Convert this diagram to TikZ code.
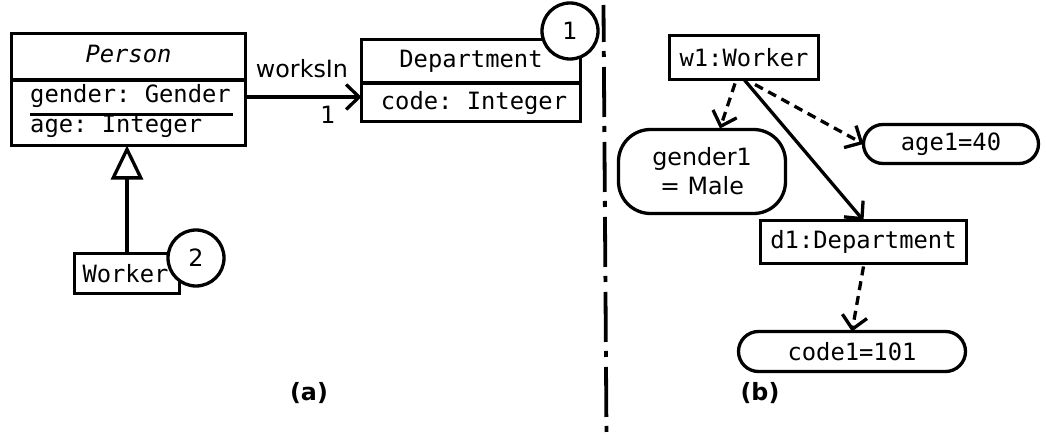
\documentclass[tikz,border=0pt]{standalone}
\usepackage{fontspec}
\setmainfont{DejaVu Sans}
\setmonofont{DejaVu Sans Mono}
\usetikzlibrary{arrows.meta,calc}
\begin{document}
\begin{tikzpicture}[x=1pt,y=-1pt,
  every node/.style={font=\fontsize{23.8}{29}\selectfont},
  mono/.style={font=\fontsize{23.8}{29}\selectfont\ttfamily},
  box/.style={draw, line width=3.3pt, inner sep=0pt, outer sep=0pt},
  txt/.style={inner sep=0pt, anchor=base},
  numcirc/.style={circle, draw, fill=white, line width=3.3pt, minimum size=56pt, inner sep=0pt},
  pill/.style={box, mono},
  assoc/.style={line width=3.3pt, -{Straight Barb[length=13pt,width=25pt]}},
  slot/.style={line width=3.3pt, dash pattern=on 9pt off 6pt, -{Straight Barb[length=13pt,width=25pt]}},
  gen/.style={line width=3.3pt, -{Triangle[open,length=34pt,width=32pt]}},
  sep/.style={line width=3.8pt, dash pattern=on 50pt off 9pt on 6pt off 10pt, dash phase=13pt},
  lab/.style={font=\fontsize{23.8}{29}\selectfont\bfseries, inner sep=0pt, anchor=base}
]
\path[use as bounding box, fill=white] (0,0) rectangle (1047,441);

% ---------- (a) class diagram ----------
\node[box, minimum width=234pt, minimum height=112pt] (person) at (128.5,89.5) {};
\draw[line width=3.3pt] (person.west |- 0,80) -- (person.east |- 0,80);
\node[txt, mono] (ptitle) at (128.5,63) {\itshape Person};
\node[txt, mono, anchor=base west] (pgender) at (30,103) {gender: Gender};
\draw[line width=2.2pt] (30,114.5) -- (233,114.5);
\node[txt, mono, anchor=base west] (page) at (30,133) {age: Integer};

\node[box, minimum width=219pt, minimum height=82pt] (dept) at (471,80.5) {};
\draw[line width=3.3pt] (dept.west |- 0,83) -- (dept.east |- 0,83);
\node[txt, mono] (dtitle) at (471,68) {Department};
\node[txt, mono] (dcode) at (474,110) {code: Integer};
\node[numcirc] (c1) at (570,31) {1};

\coordinate (wy) at (0,97);
\draw[assoc] (person.east |- wy) -- (dept.west |- wy);
\node[txt] (worksin) at (302,78) {worksIn};
\node[txt] (mult) at (328,124) {1};

\node[box, mono, minimum width=105pt, minimum height=40pt] (worker) at (127,273.5) {};
\node[txt, mono] (wtext) at (125.5,282) {Worker};
\node[numcirc] (c2) at (196,258) {2};
\draw[gen] (worker.north) -- (worker.north |- person.south);

\node[lab] (la) at (309,400) {(a)};

% ---------- separator ----------
\coordinate (septop) at (603.5,5);
\coordinate (sepbot) at (606.5,437);
\draw[sep] (septop) -- (sepbot);

% ---------- (b) object diagram ----------
\node[box, mono, minimum width=149pt, minimum height=44pt] (w1) at (744,57.5) {w1:Worker};
\node[box, minimum width=167pt, minimum height=84pt, rounded corners=32pt, align=center] (gender1) at (702,171.5) {gender1\\= Male};
\node[pill, minimum width=175pt, minimum height=39pt, rounded corners=19.5pt] (age1) at (951,144) {age1=40};
\node[box, mono, minimum width=206pt, minimum height=43pt] (d1) at (863.5,242) {d1:Department};
\node[pill, minimum width=227pt, minimum height=40pt, rounded corners=20pt] (code1) at (852,351.5) {code1=101};

\draw[slot] ($(w1.south)+(-9,4)$) -- ($(gender1.north)+(18,-1)$);
\draw[slot] ($(w1.south)+(11,5)$) -- (age1.west);
\draw[assoc] (w1.south) -- (d1.north);
\draw[slot] ($(d1.south)+(0,3)$) -- (code1.north);

\node[lab] (lb) at (760,400) {(b)};
\end{tikzpicture}
\end{document}
